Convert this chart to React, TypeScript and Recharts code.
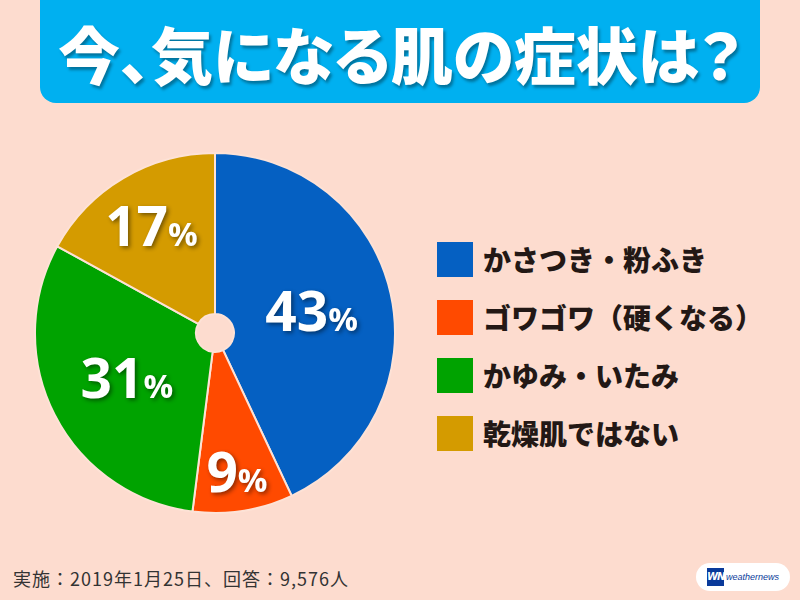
import React from 'react';
import { PieChart, Pie, Cell } from 'recharts';

// survey answers, clockwise from 12 o'clock
const categories = ['かさつき・粉ふき', 'ゴワゴワ（硬くなる）', 'かゆみ・いたみ', '乾燥肌ではない'];
const shares = [43, 9, 31, 17];
const sliceColors = ['#0560c2', '#ff4a00', '#00a300', '#d49b00'];

const titleText = '今、気になる肌の症状は？';
const footnote = '実施：2019年1月25日、回答：9,576人';

const data = categories.map((name, i) => ({ name, value: shares[i] }));

const bg = '#fddccf';
const jp = "'Noto Sans CJK JP', sans-serif";
const RADIAN = Math.PI / 180;

// small slices get their label pushed outward, like the original
const renderLabel = (props: any) => {
  const { cx, cy, midAngle, outerRadius, percent, value } = props;
  const r = outerRadius * (0.55 + 1.1 * Math.max(0, 0.3 - percent));
  const x = cx + r * Math.cos(-midAngle * RADIAN);
  const y = cy + r * Math.sin(-midAngle * RADIAN);
  return (
    <text
      x={x}
      y={y + 20}
      textAnchor="middle"
      fill="#fff"
      fontFamily="'Open Sans', sans-serif"
      fontWeight={700}
      style={{ filter: 'drop-shadow(2px 2px 2px rgba(0,0,0,0.45))' }}
    >
      <tspan fontSize={55}>{value}</tspan>
      <tspan fontSize={33}>%</tspan>
    </text>
  );
};

export default function App() {
  return (
    <div style={{ position: 'absolute', left: 0, top: 0, width: 800, height: 600, background: bg, overflow: 'hidden' }}>
      <div
        style={{
          position: 'absolute',
          left: 40,
          top: 0,
          width: 720,
          height: 103,
          background: '#00b0f0',
          borderRadius: '0 0 16px 16px',
          display: 'flex',
          alignItems: 'center',
          justifyContent: 'center',
        }}
      >
        <span
          style={{
            fontFamily: jp,
            fontWeight: 900,
            fontSize: 62,
            color: '#fff',
            fontFeatureSettings: '"palt"',
            letterSpacing: 0,
            textShadow: '2px 3px 3px rgba(0,0,0,0.35)',
            marginTop: 2,
          }}
        >
          {titleText}
        </span>
      </div>

      <div style={{ position: 'absolute', left: 0, top: 0 }}>
        <PieChart width={430} height={600} margin={{ top: 0, right: 0, bottom: 0, left: 0 }}>
          <Pie
            data={data}
            dataKey="value"
            nameKey="name"
            cx={215}
            cy={333}
            innerRadius={19}
            outerRadius={180}
            startAngle={90}
            endAngle={-270}
            stroke="#fde2d6"
            strokeWidth={2}
            label={renderLabel}
            labelLine={false}
            isAnimationActive={false}
          >
            {data.map((d, i) => (
              <Cell key={d.name} fill={sliceColors[i]} />
            ))}
          </Pie>
        </PieChart>
      </div>

      <div style={{ position: 'absolute', left: 437, top: 230 }}>
        {categories.map((name, i) => (
          <div key={name} style={{ display: 'flex', alignItems: 'center', height: 58 }}>
            <div style={{ width: 36, height: 35, background: sliceColors[i], marginRight: 10 }} />
            <span
              style={{
                fontFamily: jp,
                fontWeight: 900,
                fontSize: 28,
                color: '#231815',
                whiteSpace: 'nowrap',
              }}
            >
              {name}
            </span>
          </div>
        ))}
      </div>

      <div style={{ position: 'absolute', left: 13, top: 565, fontFamily: jp, fontSize: 18, color: '#333', letterSpacing: 1 }}>
        {footnote}
      </div>

      <div
        style={{
          position: 'absolute',
          left: 696,
          top: 563,
          width: 94,
          height: 28,
          borderRadius: 14,
          background: '#fff',
          display: 'flex',
          alignItems: 'center',
          justifyContent: 'center',
        }}
      >
        <div
          style={{
            width: 17,
            height: 18,
            background: '#0a3a9a',
            color: '#fff',
            fontFamily: "'DejaVu Sans', sans-serif",
            fontWeight: 700,
            fontStyle: 'italic',
            fontSize: 10,
            lineHeight: '18px',
            textAlign: 'center',
            marginRight: 2,
            letterSpacing: -1,
          }}
        >
          WN
        </div>
        <span style={{ fontFamily: "'Liberation Sans', sans-serif", fontStyle: 'italic', fontSize: 9, color: '#0a3a9a' }}>
          weathernews
        </span>
      </div>
    </div>
  );
}
